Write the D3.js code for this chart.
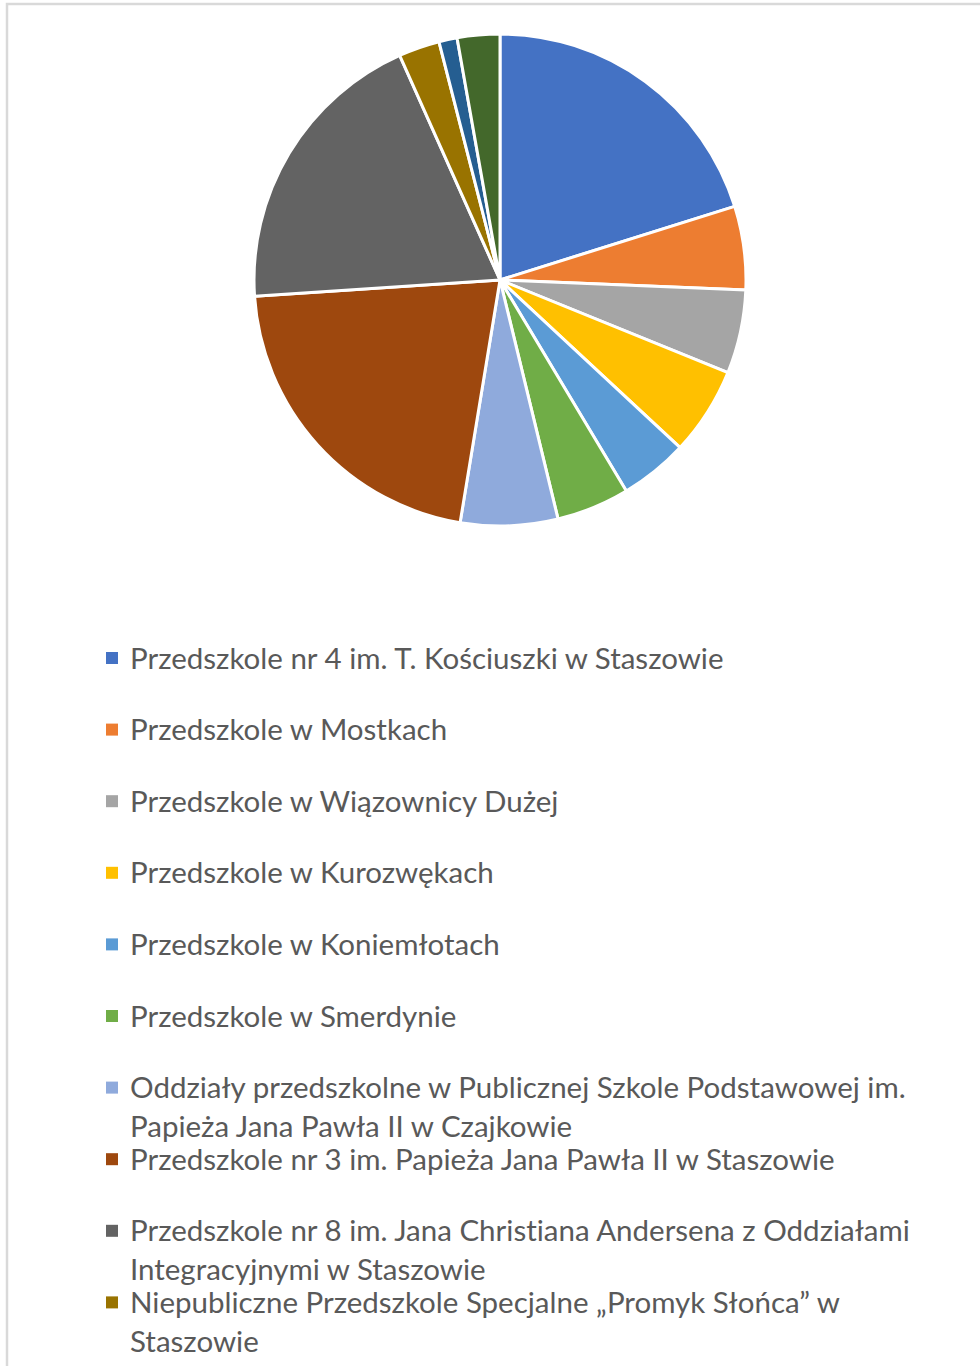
<!DOCTYPE html>
<html>
<head>
<meta charset="utf-8">
<script src="https://cdn.jsdelivr.net/npm/d3@7"></script>
<style>
  html, body { margin: 0; padding: 0; background: #fff; }
  svg { display: block; }
  text { font-variant-ligatures: none; font-feature-settings: "liga" 0, "clig" 0; }
</style>
</head>
<body>
<svg id="chart" width="980" height="1366"></svg>
<script>
// ---- data ----
const categories = [
  "Przedszkole nr 4 im. T. Kościuszki w Staszowie",
  "Przedszkole w Mostkach",
  "Przedszkole w Wiązownicy Dużej",
  "Przedszkole w Kurozwękach",
  "Przedszkole w Koniemłotach",
  "Przedszkole w Smerdynie",
  "Oddziały przedszkolne w Publicznej Szkole Podstawowej im.\nPapieża Jana Pawła II w Czajkowie",
  "Przedszkole nr 3 im. Papieża Jana Pawła II w Staszowie",
  "Przedszkole nr 8 im. Jana Christiana Andersena z Oddziałami\nIntegracyjnymi w Staszowie",
  "Niepubliczne Przedszkole Specjalne „Promyk Słońca” w\nStaszowie",
  "",
  ""
];
const values = [20.2, 5.5, 5.5, 5.8, 4.5, 4.8, 6.4, 21.4, 19.4, 2.7, 1.2, 2.8];
const colors = ["#4472C4", "#ED7D31", "#A5A5A5", "#FFC000", "#5B9BD5", "#70AD47",
                "#8FAADC", "#9E480E", "#636363", "#997300", "#255E91", "#43682B"];

// ---- drawing ----
const svg = d3.select("#chart");

// chart frame (partially visible, like the cropped original)
svg.append("rect")
  .attr("x", 7).attr("y", 4)
  .attr("width", 1100).attr("height", 1500)
  .attr("fill", "#fff")
  .attr("stroke", "#d9d9d9").attr("stroke-width", 2.5);

const cx = 500, cy = 280, r = 246;
const data = categories.map((c, i) => ({ name: c, value: values[i], color: colors[i] }));

const pie = d3.pie().value(d => d.value).sort(null);
const arc = d3.arc().innerRadius(0).outerRadius(r);

svg.append("g")
  .attr("transform", `translate(${cx},${cy})`)
  .selectAll("path")
  .data(pie(data))
  .join("path")
  .attr("d", arc)
  .attr("fill", d => d.data.color)
  .attr("stroke", "#fff")
  .attr("stroke-width", 3)
  .attr("stroke-linejoin", "round");

// legend
const legendItems = data.filter(d => d.name !== "");
const ly = d3.scaleLinear().domain([0, 1]).range([658, 729.6]);
const legend = svg.append("g").attr("font-family", "Lato, 'Open Sans', sans-serif")
  .attr("font-size", 29.5).attr("fill", "#595959");

const items = legend.selectAll("g").data(legendItems).join("g")
  .attr("transform", (d, i) => `translate(0,${ly(i)})`);

items.append("rect")
  .attr("x", 106).attr("y", -6).attr("width", 12).attr("height", 12)
  .attr("fill", d => d.color);

items.append("text")
  .attr("x", 130)
  .attr("y", -1.5)
  .attr("dominant-baseline", "central")
  .selectAll("tspan")
  .data(d => d.name.split("\n"))
  .join("tspan")
  .attr("x", 130)
  .attr("dy", (d, i) => i === 0 ? 0 : 39)
  .text(d => d);
</script>
</body>
</html>
